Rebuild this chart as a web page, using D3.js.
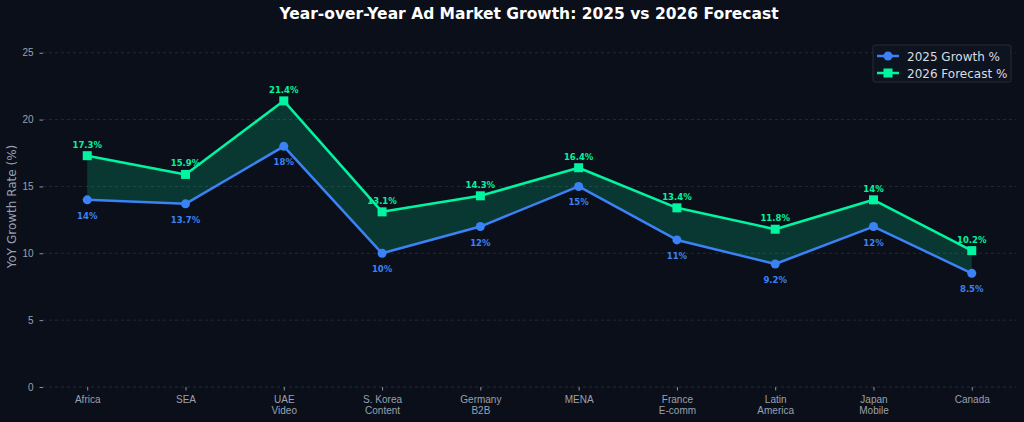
<!DOCTYPE html>
<html>
<head>
<meta charset="utf-8">
<script src="https://cdn.jsdelivr.net/npm/d3@7"></script>
<style>
  body { margin: 0; background: #0b0f1a; }
  svg { display: block; font-family: "DejaVu Sans", sans-serif; }
</style>
</head>
<body>
<div id="chart"></div>
<script>
// data
const regions = ["Africa", "SEA", "UAE\nVideo", "S. Korea\nContent", "Germany\nB2B", "MENA", "France\nE-comm", "Latin\nAmerica", "Japan\nMobile", "Canada"];
const growth2025 = [14, 13.7, 18, 10, 12, 15, 11, 9.2, 12, 8.5];
const forecast2026 = [17.3, 15.9, 21.4, 13.1, 14.3, 16.4, 13.4, 11.8, 14, 10.2];
const yTicks = [0, 5, 10, 15, 20, 25];

const width = 1024, height = 422;
const margin = {top: 26, right: 8, bottom: 35, left: 43};
const plotW = width - margin.left - margin.right;
const plotH = height - margin.top - margin.bottom;

const blue = "#3b82f6", green = "#00f5a0";

const svg = d3.select("#chart").append("svg")
    .attr("width", width)
    .attr("height", height);

svg.append("rect").attr("width", width).attr("height", height).attr("fill", "#0b0f1a");

const g = svg.append("g")
    .attr("transform", "translate(" + margin.left + "," + margin.top + ")");

// scales (matplotlib style 5% margins on x)
const x = d3.scaleLinear()
    .domain([-0.45, regions.length - 1 + 0.45])
    .range([0, plotW]);
const y = d3.scaleLinear()
    .domain([0, 27])
    .range([plotH, 0]);

// grid
g.selectAll(".grid").data(yTicks).join("line")
    .attr("x1", 0).attr("x2", plotW)
    .attr("y1", d => y(d)).attr("y2", d => y(d))
    .attr("stroke", "#2a3040")
    .attr("stroke-width", 0.8)
    .attr("stroke-dasharray", "3,3");

// y axis
const yAxis = g.append("g")
    .call(d3.axisLeft(y).tickValues(yTicks).tickSize(3.5).tickPadding(6));
yAxis.select(".domain").remove();
yAxis.selectAll("line").attr("stroke", "#8b93a3");
yAxis.selectAll("text").attr("fill", "#9aa1ad").attr("font-size", 10);

// x axis
const xAxis = g.append("g")
    .attr("transform", "translate(0," + plotH + ")")
    .call(d3.axisBottom(x).tickValues(d3.range(regions.length)).tickSize(3.5).tickPadding(4).tickFormat(""));
xAxis.select(".domain").remove();
xAxis.selectAll("line").attr("stroke", "#8b93a3");
xAxis.selectAll(".tick").each(function(d) {
    const lines = regions[d].split("\n");
    const t = d3.select(this).append("text")
        .attr("fill", "#9aa1ad")
        .attr("font-size", 10)
        .attr("text-anchor", "middle")
        .attr("y", 16);
    lines.forEach((l, i) => {
        t.append("tspan").attr("x", 0).attr("dy", i === 0 ? 0 : 11).text(l);
    });
});

// y label
svg.append("text")
    .attr("transform", "translate(16," + (margin.top + plotH / 2) + ") rotate(-90)")
    .attr("text-anchor", "middle")
    .attr("fill", "#9aa1ad")
    .attr("font-size", 12)
    .text("YoY Growth Rate (%)");

// title
svg.append("text")
    .attr("x", width / 2 + 17)
    .attr("y", 19)
    .attr("text-anchor", "middle")
    .attr("fill", "#ffffff")
    .attr("font-size", 15.5)
    .attr("font-weight", "bold")
    .text("Year-over-Year Ad Market Growth: 2025 vs 2026 Forecast");

// band between lines
const idx = d3.range(regions.length);
g.append("path")
    .datum(idx)
    .attr("fill", green)
    .attr("fill-opacity", 0.18)
    .attr("d", d3.area()
        .x(i => x(i))
        .y0(i => y(growth2025[i]))
        .y1(i => y(forecast2026[i])));

const line = vals => d3.line().x(i => x(i)).y(i => y(vals[i]));

// 2025 line
g.append("path").datum(idx)
    .attr("fill", "none").attr("stroke", blue).attr("stroke-width", 2.5)
    .attr("stroke-linejoin", "round")
    .attr("d", line(growth2025));
g.selectAll(".dot25").data(idx).join("circle")
    .attr("cx", i => x(i)).attr("cy", i => y(growth2025[i]))
    .attr("r", 4.5).attr("fill", blue);

// 2026 line
g.append("path").datum(idx)
    .attr("fill", "none").attr("stroke", green).attr("stroke-width", 2.5)
    .attr("stroke-linejoin", "round")
    .attr("d", line(forecast2026));
g.selectAll(".sq26").data(idx).join("rect")
    .attr("x", i => x(i) - 4.5).attr("y", i => y(forecast2026[i]) - 4.5)
    .attr("width", 9).attr("height", 9).attr("fill", green);

// value labels
g.selectAll(".lab26").data(idx).join("text")
    .attr("x", i => x(i)).attr("y", i => y(forecast2026[i]) - 8)
    .attr("text-anchor", "middle")
    .attr("fill", green).attr("font-size", 8.5).attr("font-weight", "bold")
    .text(i => forecast2026[i] + "%");
g.selectAll(".lab25").data(idx).join("text")
    .attr("x", i => x(i)).attr("y", i => y(growth2025[i]) + 19)
    .attr("text-anchor", "middle")
    .attr("fill", blue).attr("font-size", 8.5).attr("font-weight", "bold")
    .text(i => growth2025[i] + "%");

// legend
const leg = svg.append("g").attr("transform", "translate(873,45)");
leg.append("rect")
    .attr("width", 138).attr("height", 37).attr("rx", 2)
    .attr("fill", "#0e1320").attr("stroke", "#2e3444").attr("stroke-width", 0.8);
const items = [
    {label: "2025 Growth %", color: blue, shape: "circle"},
    {label: "2026 Forecast %", color: green, shape: "square"}
];
items.forEach((it, i) => {
    const row = leg.append("g").attr("transform", "translate(0," + (11 + i * 17) + ")");
    row.append("line").attr("x1", 4).attr("x2", 26).attr("stroke", it.color).attr("stroke-width", 2.5);
    if (it.shape === "circle") {
        row.append("circle").attr("cx", 15).attr("r", 4.5).attr("fill", it.color);
    } else {
        row.append("rect").attr("x", 10.5).attr("y", -4.5).attr("width", 9).attr("height", 9).attr("fill", it.color);
    }
    row.append("text").attr("x", 34).attr("y", 4.5)
        .attr("fill", "#d8dce3").attr("font-size", 12)
        .text(it.label);
});
</script>
</body>
</html>
